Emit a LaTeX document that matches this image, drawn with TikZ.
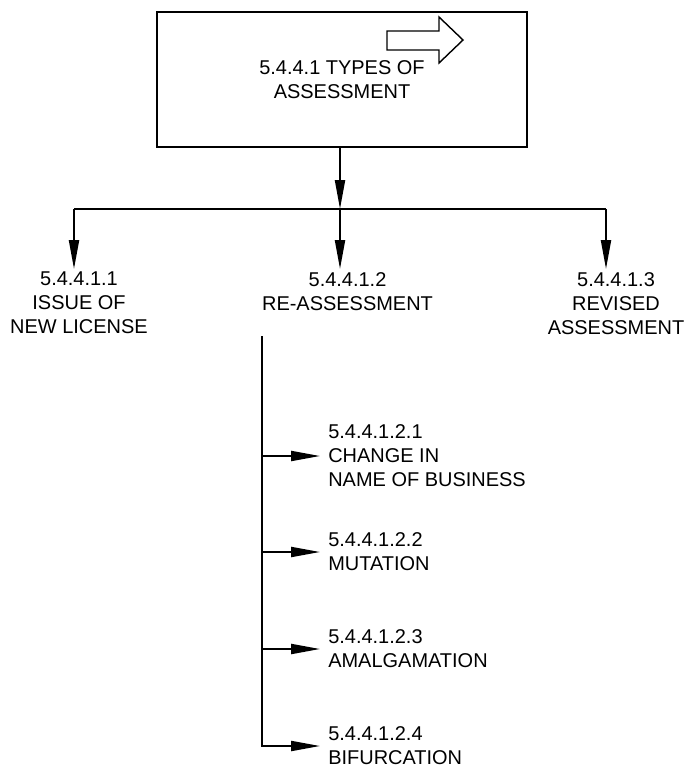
\documentclass[tikz,border=0pt]{standalone}
\usepackage{fontspec}
\setmainfont{Liberation Sans}
\usetikzlibrary{arrows.meta}

\tikzset{
  mainbox/.style={draw, line width=1.4pt, minimum width=9.25cm, minimum height=3.375cm,
    align=center, font=\fontsize{14.2}{17.1}\selectfont},
  lbl/.style={align=center, inner sep=2pt, anchor=north, font=\fontsize{14.2}{17.1}\selectfont},
  sublbl/.style={align=left, anchor=west, inner xsep=5.7pt, inner ysep=2pt,
    font=\fontsize{14.2}{17.1}\selectfont},
  wire/.style={line width=1.3pt},
  link/.style={line width=1.3pt, -{Triangle[length=7.2mm,width=2.5mm]}},
  hollow/.style={line width=1pt, line join=miter}
}

\begin{document}
\begin{tikzpicture}[x=0.25mm,y=-0.25mm]
			\useasboundingbox (0,0) rectangle (688,769);

			% top box with its block arrow
			\node[mainbox] (types) at (342,79.5) {5.4.4.1 TYPES OF\\ASSESSMENT};
			\draw[hollow] (387,31) -- (439,31) -- (439,17) -- (463,40) -- (439,63) -- (439,50) -- (387,50) -- cycle;

			% first level
			\node[lbl] (newlic) at (79,269) {5.4.4.1.1\\ISSUE OF\\NEW LICENSE};
			\node[lbl] (reass) at (347.5,269) {5.4.4.1.2\\RE-ASSESSMENT};
			\node[lbl] (revised) at (616,269) {5.4.4.1.3\\REVISED\\ASSESSMENT};

			\coordinate (hub) at (340,209);
			\coordinate (lt) at (74,209);
			\coordinate (rt) at (606,209);
			\draw[wire] (lt) -- (rt);
			\draw[link] (hub |- types.south) -- (hub);
			\foreach \c/\n in {lt/newlic, hub/reass, rt/revised}
			\draw[link] (\c) -- (\c |- \n.north);

			% second level under re-assessment
			\coordinate (stem) at (262,336);
			\node[sublbl] (change) at (320,456) {5.4.4.1.2.1\\CHANGE IN\\NAME OF BUSINESS};
			\node[sublbl] (mutation) at (320,552) {5.4.4.1.2.2\\MUTATION};
			\node[sublbl] (amalg) at (320,649) {5.4.4.1.2.3\\AMALGAMATION};
			\node[sublbl] (bifur) at (320,746) {5.4.4.1.2.4\\BIFURCATION};

			\draw[link] (stem) |- (bifur.west);
			\foreach \n in {change, mutation, amalg}
			\draw[link] (stem |- \n.west) -- (\n.west);
		\end{tikzpicture}
\end{document}
